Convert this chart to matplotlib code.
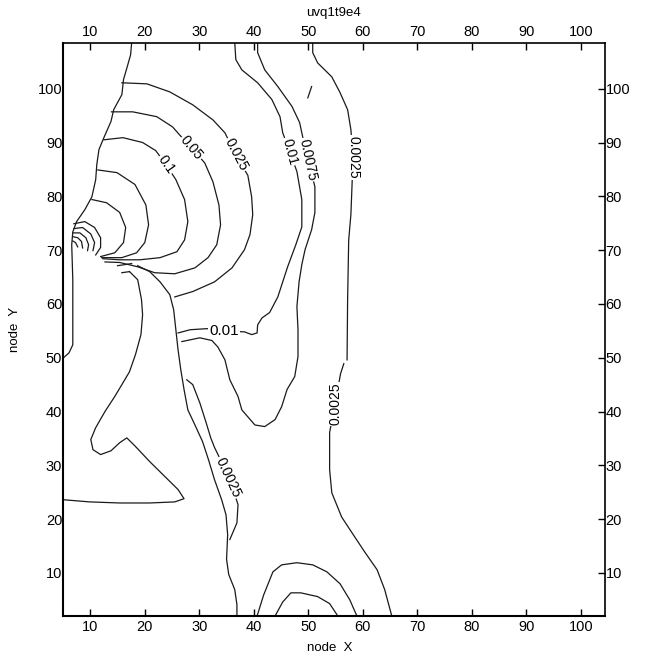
import matplotlib.pyplot as plt

plt.rcParams['font.family'] = ['Liberation Sans', 'DejaVu Sans']

# traced contour lines, node coordinates (x, y)
bound_x = [17.6, 17.4, 16.9, 16.1, 15.8, 14.3, 13.8, 12.5, 11.6, 11.2, 11.0, 10.3, 9.0, 7.5, 6.8, 6.6, 6.8, 6.8, 6.8, 6.1, 5.1]
bound_y = [108.6, 106.3, 104.5, 101.7, 98.9, 96.1, 93.9, 90.9, 88.7, 85.9, 83.1, 79.9, 77.5, 75.3, 73.4, 71.0, 64.5, 57.1, 52.4, 50.9, 50.0]

c025_x = [15.8, 20.4, 24.6, 28.8, 32.5, 34.7, 36.7, 38.9, 39.6, 39.8, 39.3, 38.3, 36.0, 32.8, 28.8, 25.5]
c025_y = [101.1, 100.9, 99.4, 97.0, 94.2, 91.8, 87.7, 83.9, 79.9, 76.6, 72.9, 70.1, 66.7, 64.1, 62.3, 61.3]

c05_x = [13.9, 17.8, 22.2, 25.1, 26.4, 28.6, 31.0, 32.5, 33.6, 33.9, 33.2, 31.6, 29.2, 25.5, 21.8, 18.7, 15.4, 12.7]
c05_y = [95.7, 95.7, 94.8, 92.9, 91.4, 89.0, 86.2, 82.7, 78.4, 74.7, 71.0, 68.6, 66.7, 65.6, 65.8, 66.9, 67.7, 67.8]

c1_x = [12.5, 16.0, 19.6, 22.0, 23.9, 25.7, 27.3, 27.9, 27.3, 25.9, 22.8, 19.1, 15.4, 12.3]
c1_y = [90.5, 90.9, 90.0, 88.5, 85.9, 83.1, 79.4, 75.3, 71.9, 69.7, 68.6, 68.2, 68.2, 68.4]

c2_x = [11.4, 14.9, 18.2, 20.2, 20.7, 20.0, 18.5, 15.8, 12.1]
c2_y = [84.9, 84.4, 82.2, 78.4, 74.7, 71.4, 69.5, 68.6, 68.6]

c3_x = [10.3, 13.0, 15.4, 16.5, 16.1, 14.5, 11.9]
c3_y = [79.4, 78.8, 77.0, 74.2, 71.4, 69.5, 68.8]

src1_x = [7.0, 9.0, 10.8, 11.9, 11.9, 11.0]
src1_y = [74.9, 75.3, 74.2, 72.3, 70.5, 69.1]
src2_x = [7.0, 8.6, 10.1, 10.8, 10.5]
src2_y = [74.0, 74.2, 73.0, 71.4, 69.9]
src3_x = [6.8, 8.1, 9.2, 9.7, 9.5]
src3_y = [73.2, 73.2, 72.3, 71.0, 69.9]
src4_x = [6.8, 7.7, 8.4, 8.6]
src4_y = [72.5, 72.3, 71.6, 70.4]
src5_x = [6.8, 7.3, 7.7]
src5_y = [71.7, 71.4, 70.6]

stem_x = [18.7, 20.9, 22.8, 24.6, 25.3, 25.7, 26.1, 26.6, 27.2, 27.9, 29.2, 30.6, 31.7, 32.8, 34.1, 34.9, 35.2, 35.0, 35.4, 36.5, 36.9, 36.9]
stem_y = [67.1, 66.0, 64.1, 61.7, 58.9, 55.2, 51.5, 47.8, 44.1, 40.3, 37.5, 34.4, 31.0, 27.3, 23.6, 20.8, 17.1, 12.5, 9.7, 6.9, 4.1, 2.0]

tongue_x = [27.7, 28.8, 30.1, 31.2, 32.1, 32.8, 35.4, 37.1, 36.9, 35.6]
tongue_y = [45.9, 45.0, 41.6, 38.1, 35.1, 33.3, 27.9, 22.7, 19.3, 16.2]

wedge_x = [17.2, 18.7, 19.4, 19.6, 19.3, 18.3, 17.2, 15.8, 14.5, 12.7, 11.0, 10.1, 10.5, 11.9, 13.8, 15.4, 16.7, 18.2, 20.9, 23.7, 26.1, 27.2, 25.5, 20.9, 15.4, 9.9, 5.1]
wedge_y = [66.0, 64.5, 60.8, 58.0, 54.3, 50.6, 47.4, 45.0, 42.8, 40.0, 37.0, 34.8, 32.9, 32.0, 32.7, 34.2, 35.1, 33.6, 30.7, 27.9, 25.5, 23.8, 23.2, 23.0, 23.0, 23.2, 23.6]

c01_x = [36.5, 36.7, 37.8, 40.7, 43.3, 44.8, 45.3, 46.6, 47.9, 48.8, 48.8, 47.7, 46.2, 44.4, 42.9, 41.5, 40.7, 40.6, 39.6, 38.3, 34.5, 31.4, 28.3, 26.1]
c01_y = [108.6, 105.4, 103.5, 101.1, 98.0, 94.8, 91.8, 88.3, 84.6, 79.4, 74.3, 71.0, 66.9, 61.3, 58.4, 57.4, 56.1, 54.6, 54.3, 54.8, 55.0, 55.4, 55.2, 54.6]

c0075_x = [40.7, 40.7, 42.0, 44.4, 47.0, 48.4, 48.8, 49.9, 51.2, 51.2, 50.6, 49.4, 48.8, 48.3, 47.9, 48.1, 48.1, 47.5, 46.1, 45.1, 43.9, 42.0, 40.2, 37.8, 37.1, 35.6, 34.7, 33.4, 32.3, 30.1, 26.8]
c0075_y = [108.6, 106.7, 103.5, 100.4, 96.7, 93.7, 91.8, 86.8, 81.8, 77.0, 73.8, 70.1, 67.3, 64.1, 59.5, 55.2, 50.2, 46.5, 44.1, 40.9, 38.5, 37.2, 37.5, 40.3, 42.8, 45.9, 49.6, 52.0, 53.2, 53.7, 53.0]

c0025a_x = [50.8, 50.8, 51.7, 54.3, 55.8, 57.2, 57.8, 58.2, 58.0, 57.8, 57.4, 57.2, 57.1]
c0025a_y = [108.6, 106.7, 104.8, 102.2, 99.3, 96.1, 92.4, 87.2, 81.8, 76.6, 71.9, 60.8, 49.6]
c0025b_x = [56.5, 55.9, 54.9, 53.9, 53.9, 54.3, 56.1, 58.5, 60.4, 62.6, 64.0, 65.3]
c0025b_y = [48.9, 47.0, 41.4, 36.1, 29.2, 24.9, 20.4, 16.7, 13.8, 10.6, 6.9, 2.0]

lobe1_x = [40.6, 41.8, 43.5, 45.1, 47.9, 50.8, 53.4, 55.8, 57.6, 58.9]
lobe1_y = [2.0, 5.9, 10.2, 11.5, 11.9, 11.5, 10.2, 8.0, 5.0, 2.0]
lobe2_x = [43.9, 45.3, 46.8, 48.6, 51.7, 53.9, 55.4]
lobe2_y = [2.0, 4.6, 6.3, 6.3, 5.6, 4.3, 2.0]

notch1_x = [15.0, 17.6]
notch1_y = [67.1, 67.5]
notch2_x = [15.8, 17.2]
notch2_y = [65.8, 66.0]
stroke_x = [49.9, 50.6]
stroke_y = [98.3, 100.4]

lines = [
    (bound_x, bound_y), (c025_x, c025_y), (c05_x, c05_y), (c1_x, c1_y),
    (c2_x, c2_y), (c3_x, c3_y), (src1_x, src1_y), (src2_x, src2_y),
    (src3_x, src3_y), (src4_x, src4_y), (src5_x, src5_y),
    (stem_x, stem_y), (tongue_x, tongue_y), (wedge_x, wedge_y),
    (c01_x, c01_y), (c0075_x, c0075_y), (c0025a_x, c0025a_y),
    (c0025b_x, c0025b_y), (lobe1_x, lobe1_y), (lobe2_x, lobe2_y),
    (notch1_x, notch1_y), (notch2_x, notch2_y), (stroke_x, stroke_y),
]

# contour labels: text, x, y, rotation
label_text = ['0.1', '0.05', '0.025', '0.01', '0.0075', '0.0025', '0.01', '0.0025', '0.0025']
label_x = [23.9, 28.6, 36.7, 46.6, 49.9, 58.2, 34.5, 54.9, 35.2]
label_y = [85.9, 89.0, 87.7, 88.3, 86.8, 87.2, 55.0, 41.4, 27.7]
label_rot = [-55, -50, -62, -75, -78, -90, 0, 90, -65]
label_size = [10, 10, 10, 10, 10, 10, 11, 10, 10]

ticks = [10, 20, 30, 40, 50, 60, 70, 80, 90, 100]

fig = plt.figure(figsize=(6.46, 6.59), dpi=100)
ax = fig.add_axes([0.0975, 0.0653, 0.839, 0.8695])

for xs, ys in lines:
    ax.plot(xs, ys, color='#1a1a1a', lw=0.9, solid_joinstyle='round')

for t, x, y, r, s in zip(label_text, label_x, label_y, label_rot, label_size):
    ax.text(x, y, t, rotation=r, ha='center', va='center', fontsize=s,
            rotation_mode='anchor',
            bbox=dict(boxstyle='square,pad=0.08', fc='white', ec='none'))

ax.set_xlim(5.0, 104.4)
ax.set_ylim(2.0, 108.5)
ax.set_xticks(ticks)
ax.set_yticks(ticks)
ax.tick_params(axis='x', which='both', direction='in', top=True, bottom=True,
               labeltop=True, labelbottom=True, length=5, width=1, pad=3,
               labelsize=10.5)
ax.tick_params(axis='y', which='both', direction='in', left=False, right=True,
               labelleft=True, labelright=True, length=5, width=1, pad=0.5,
               labelsize=10.5)
for side in ['left', 'bottom']:
    ax.spines[side].set_linewidth(1.5)
for side in ['top', 'right']:
    ax.spines[side].set_linewidth(1.2)

fig.text(0.517, 0.980, 'uvq1t9e4', ha='center', va='center', fontsize=9.5)
fig.text(0.511, 0.017, 'node  X', ha='center', va='center', fontsize=9.5)
fig.text(0.023, 0.50, 'node  Y', ha='center', va='center', rotation=90, fontsize=9.5)

fig.savefig('out.png', dpi=100)
